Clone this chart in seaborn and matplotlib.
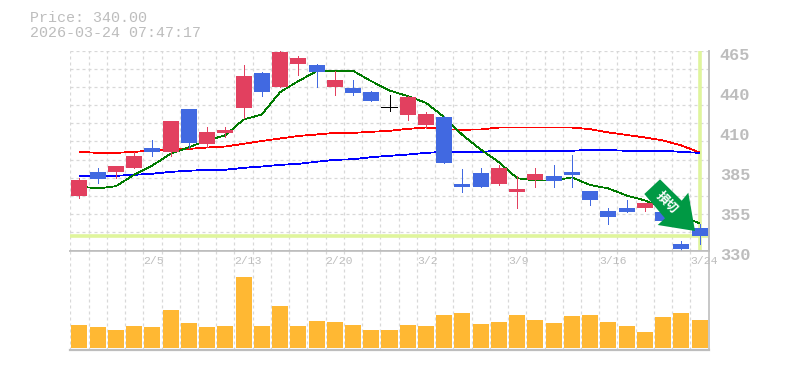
import matplotlib
matplotlib.use("Agg")
import matplotlib.pyplot as plt
from matplotlib.patches import Polygon
from matplotlib.transforms import ScaledTranslation
import numpy as np
import pandas as pd
import seaborn as sns

# values
body_top = [377.9, 383.3, 386.7, 394.1, 399.5, 417.1, 425.2, 409.7, 411.5, 447.5, 449.5, 464.3,
            459.6, 454.9, 445.4, 440.0, 437.3, 427.1, 433.3, 421.8, 419.8, 374.6, 382.0, 386.0,
            371.2, 381.3, 380.6, 383.3, 370.5, 357.0, 359.0, 362.4, 356.3, 334.7, 345.5]
body_bot = [366.7, 378.1, 383.3, 386.0, 396.8, 396.4, 402.9, 402.2, 409.0, 425.9, 437.3, 440.7,
            456.2, 450.2, 440.7, 436.0, 430.6, 426.1, 421.8, 415.0, 389.4, 373.2, 373.2, 374.6,
            369.8, 377.3, 376.6, 381.3, 364.4, 352.3, 356.3, 359.0, 349.6, 330.7, 340.0]
wick_hi = [378.8, 386.0, 386.7, 396.6, 404.3, 417.1, 425.2, 413.2, 413.7, 454.9, 450.2, 465.0,
           461.0, 455.6, 451.5, 444.8, 438.0, 435.3, 434.0, 423.2, 421.1, 384.7, 385.4, 387.4,
           380.0, 385.4, 387.4, 394.8, 370.5, 358.4, 363.8, 362.4, 356.3, 336.1, 348.2]
wick_lo = [365.3, 375.4, 378.8, 385.4, 393.5, 394.1, 399.1, 400.2, 406.5, 419.1, 434.6, 440.7,
           448.8, 440.7, 435.3, 435.3, 430.6, 424.5, 417.8, 413.0, 389.4, 369.8, 373.2, 373.9,
           359.0, 373.2, 373.2, 373.2, 360.4, 347.6, 356.3, 357.0, 349.6, 329.3, 334.7]
kind = list("rbrrbrbrrrbrrbrbbkrrbbbrrrbbbbbrbbb")

ma_short = [373.2, 371.9, 373.4, 381.1, 387.4, 395.3, 399.7, 404.3, 407.8, 418.4, 421.8, 436.9,
            444.3, 451.0, 451.3, 451.3, 444.3, 438.0, 434.2, 429.7, 420.0, 408.0, 398.2, 389.6,
            378.8, 377.3, 377.3, 379.3, 374.2, 371.9, 367.1, 363.8, 359.0, 353.6, 348.2]
ma_mid = [396.6, 395.9, 395.9, 396.6, 397.5, 398.2, 398.6, 399.5, 400.2, 402.0, 403.9, 405.6,
          407.3, 408.3, 409.4, 409.4, 410.1, 410.8, 412.1, 413.0, 411.9, 411.5, 411.7, 413.0,
          413.0, 413.0, 413.0, 413.0, 411.9, 409.7, 408.0, 406.3, 404.3, 400.9, 396.2]
ma_long = [380.4, 380.4, 380.4, 381.1, 381.8, 383.1, 383.8, 384.5, 384.5, 385.8, 386.7, 387.8,
           388.5, 389.9, 391.2, 391.6, 393.0, 393.9, 394.8, 395.9, 396.6, 396.6, 396.6, 397.3,
           397.3, 397.3, 397.3, 397.3, 398.0, 397.8, 397.3, 397.3, 397.3, 396.6, 395.9]
volume = [23, 21, 18, 22, 21, 38, 25, 21, 22, 71, 22, 42, 22, 27, 26, 23, 18, 18,
          23, 22, 33, 35, 24, 26, 33, 28, 25, 32, 33, 26, 22, 16, 31, 35, 28]

date_labels = ["2/5", "2/13", "2/20", "3/2", "3/9", "3/16", "3/24"]
date_pos = [4, 9, 14, 19, 24, 29, 34]
price_ticks = [465, 438, 411, 384, 357, 330]
price_labels = ["465", "440", "410", "385", "355", "330"]
last_price = 340.0
header = ["Price: 340.00", "2026-03-24 07:47:17"]

sns.set_style("white")
plt.rcParams["font.family"] = ["Liberation Mono", "Noto Sans CJK JP", "DejaVu Sans"]

GRAY = "#bdbdbd"
GRID = "#d8d8d8"
LIME = "#dff59c"
colors = {"r": "#e2405f", "b": "#4169e1", "k": "#000000"}

W, H = 785, 370
fig = plt.figure(figsize=(W / 100, H / 100), dpi=100)
ax = fig.add_axes([70.3 / W, 1 - 250.5 / H, 638.4 / W, 200 / H])
ax_vol = fig.add_axes([70.3 / W, 1 - 350 / H, 638.4 / W, 99.5 / H])

df = pd.DataFrame({"i": np.arange(len(volume)), "vol": volume, "short": ma_short,
                   "mid": ma_mid, "long": ma_long})
edges = np.arange(len(volume)) - 0.5

# price panel
ax.axhline(last_price, color=LIME, lw=2.6, zorder=1)
ax.axvline(df["i"].iloc[-1], color=LIME, lw=2.6, zorder=1)
for col, c in [("mid", "#ff0000"), ("long", "#0000ff"), ("short", "#007a00")]:
    sns.lineplot(data=df, x="i", y=col, color=c, lw=0.55, ax=ax, zorder=2, antialiased=False)
bar_colors = [colors[k] for k in kind]
ax.vlines(df["i"], wick_lo, wick_hi, colors=bar_colors, lw=0.6, zorder=3, antialiased=False)
ax.bar(df["i"], np.array(body_top) - np.array(body_bot), bottom=body_bot, width=0.88,
       color=bar_colors, edgecolor="none", linewidth=0, zorder=4, antialiased=False)

ax.set_xlim(-0.5, len(volume) - 0.5)
ax.set_ylim(330, 465)
ax.set_xticks(edges)
ax.set_yticks(np.linspace(330, 465, 12))
ax.grid(True, color=GRID, lw=0.9, ls=(0, (2.4, 2.4)))
ax.set_axisbelow(True)
ax.set_xlabel("")
ax.set_ylabel("")

ax2 = ax.twinx()
ax2.set_ylim(330, 465)
ax2.set_yticks(price_ticks, price_labels)
ax2.tick_params(right=False, left=False, labelright=True, labelsize=12.2, labelcolor=GRAY, pad=4.5)
ax.tick_params(left=False, bottom=False, labelleft=False, labelbottom=False)
off = ScaledTranslation(0, -3 / 72 * 0.72, fig.dpi_scale_trans)
for lab in ax2.get_yticklabels():
    lab.set_transform(lab.get_transform() + off)
    lab.set_fontweight("bold")

# volume panel
sns.barplot(data=df, x="i", y="vol", native_scale=True, color="#ffb833", saturation=1,
            width=0.88, ax=ax_vol, zorder=3, edgecolor="none", linewidth=0)
ax_vol.set_xlim(-0.5, len(volume) - 0.5)
ax_vol.set_ylim(-2, 97.5)
ax_vol.set_xticks(edges)
ax_vol.set_yticks([])
ax_vol.grid(True, axis="x", color=GRID, lw=0.9, ls=(0, (2.4, 2.4)))
ax_vol.set_axisbelow(True)
ax_vol.tick_params(left=False, bottom=False, labelleft=False, labelbottom=False)
ax_vol.set_xlabel("")
ax_vol.set_ylabel("")
for p, t in zip(date_pos, date_labels):
    ax_vol.text(p - 0.5, 87, t, color=GRAY, fontsize=8.2, ha="left", va="center", zorder=5)

for a in (ax, ax2, ax_vol):
    for s in ("top", "left"):
        a.spines[s].set_visible(False)
    a.spines["right"].set_color(GRAY)
    a.spines["bottom"].set_color(GRAY)
    a.spines["right"].set_linewidth(1.2)
    a.spines["bottom"].set_linewidth(1.2)
ax_vol.spines["bottom"].set_linewidth(1.6)

# signal arrow, placed in picture pixels
arrow_px = [(660, 179.3), (644.3, 194), (665, 218.3), (657.7, 225), (695, 231),
            (688.3, 192.7), (681.7, 200.7)]
fig.add_artist(Polygon([(x / W, 1 - y / H) for x, y in arrow_px], closed=True,
                       facecolor="#009944", edgecolor="none", transform=fig.transFigure, zorder=10))
fig.text(667 / W, 1 - 202.5 / H, "損切", color="white", fontsize=9, fontweight="bold",
         rotation=-45, ha="center", va="center", zorder=11)

for t, y in zip(header, (18, 33)):
    fig.text(30 / W, 1 - y / H, t, color=GRAY, fontsize=10.8, ha="left", va="center")

fig.savefig("out.png", dpi=100)
